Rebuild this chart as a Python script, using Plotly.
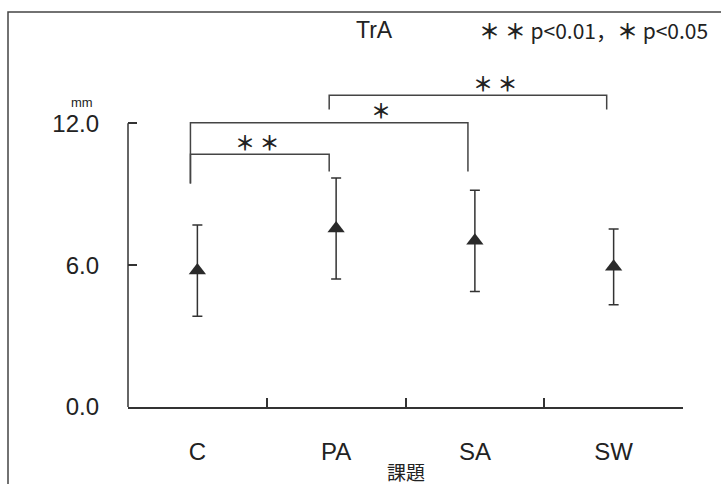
import plotly.graph_objects as go

# ---- data ----
categories = ["C", "PA", "SA", "SW"]
means = [5.77, 7.55, 7.03, 5.93]
sds = [1.93, 2.14, 2.14, 1.60]
y_ticks = [0, 6, 12]
y_tick_labels = ["0.0", "6.0", "12.0"]
# significance brackets: (from index, to index, bracket level, left-leg bottom, right-leg bottom, label)
brackets_from = [0, 0, 1]
brackets_to = [1, 2, 3]
brackets_level = [10.69, 12.02, 13.19]
brackets_left_end = [9.45, 9.45, 12.58]
brackets_right_end = [9.96, 9.96, 12.58]
brackets_label = ["＊ ＊", "＊", "＊ ＊"]
brackets_label_x = [0.43, 1.32, 2.15]

W, H = 721, 484
L, R, T, B = 128, 38, 76, 77
Y_MAX = 14.0
plot_w = W - L - R
plot_h = H - T - B


def px_x(x):
    return (x - L) / plot_w


def px_y(y):
    return (H - B - y) / plot_h


LINE = "#333333"
FONT = "Liberation Sans, Arial, sans-serif"
CJK = "Noto Sans CJK JP"

fig = go.Figure()
fig.add_trace(go.Scatter(
    x=categories, y=means, mode="markers",
    marker=dict(symbol="triangle-up", size=15, color="#2a2a2a"),
    error_y=dict(type="data", array=sds, visible=True, color=LINE, thickness=1.5, width=5),
    showlegend=False, hoverinfo="skip",
))

shapes = []
annotations = []
leg_off = -0.05
for a, b, lvl, le, re_, lab, lx in zip(brackets_from, brackets_to, brackets_level,
                                        brackets_left_end, brackets_right_end, brackets_label,
                                        brackets_label_x):
    xa, xb = a + leg_off, b + leg_off
    shapes.append(dict(type="path", xref="x", yref="y",
                       path=f"M {xa},{le} L {xa},{lvl} L {xb},{lvl} L {xb},{re_}",
                       line=dict(color="#444444", width=1.5)))
    annotations.append(dict(x=lx, y=lvl, xref="x", yref="y", text=f"<b>{lab}</b>",
                            showarrow=False, yanchor="middle", xanchor="center", yshift=12,
                            font=dict(family=CJK, size=20, color="#222")))

# y-axis line (only up to 12)
shapes.append(dict(type="line", xref="paper", yref="y", x0=0, x1=0, y0=0, y1=12,
                   line=dict(color=LINE, width=1.5)))
# outer frame
shapes.append(dict(type="path", xref="paper", yref="paper",
                   path=f"M {px_x(8)},{px_y(540)} L {px_x(8)},{px_y(12)} L {px_x(760)},{px_y(12)}",
                   line=dict(color="#444444", width=1.5)))

annotations += [
    dict(x=px_x(374), y=px_y(30), xref="paper", yref="paper", text="TrA", showarrow=False,
         xanchor="center", yanchor="middle",
         font=dict(family=FONT, size=23, color="#222")),
    dict(x=px_x(477), y=px_y(30), xref="paper", yref="paper",
         text="<b>＊ ＊</b> p&lt;0.01，<b>＊</b> p&lt;0.05",
         showarrow=False, xanchor="left", yanchor="middle",
         font=dict(family=CJK, size=21, color="#222")),
    dict(x=px_x(82), y=px_y(102), xref="paper", yref="paper", text="mm", showarrow=False,
         xanchor="center", yanchor="middle",
         font=dict(family=FONT, size=13, color="#222")),
    dict(x=px_x(406), y=px_y(471), xref="paper", yref="paper", text="課題", showarrow=False,
         xanchor="center", yanchor="middle",
         font=dict(family=CJK, size=19, color="#222")),
]

fig.update_layout(
    width=W, height=H,
    margin=dict(l=L, r=R, t=T, b=B, pad=0),
    paper_bgcolor="white", plot_bgcolor="white",
    shapes=shapes, annotations=annotations,
    xaxis=dict(type="category", range=[-0.5, 3.5], showline=True, linecolor=LINE, linewidth=1.5,
               ticks="inside", tickson="boundaries", ticklen=9, tickwidth=1.5, tickcolor=LINE,
               showgrid=False, zeroline=False, ticklabelstandoff=22,
               tickfont=dict(family=FONT, size=24, color="#222")),
    yaxis=dict(range=[0, Y_MAX], showline=False, tickvals=y_ticks, ticktext=y_tick_labels,
               ticks="inside", ticklen=9, tickwidth=1.5, tickcolor=LINE,
               showgrid=False, zeroline=False, ticklabelstandoff=28,
               tickfont=dict(family=FONT, size=24, color="#222")),
)

fig.write_html("out.html")
